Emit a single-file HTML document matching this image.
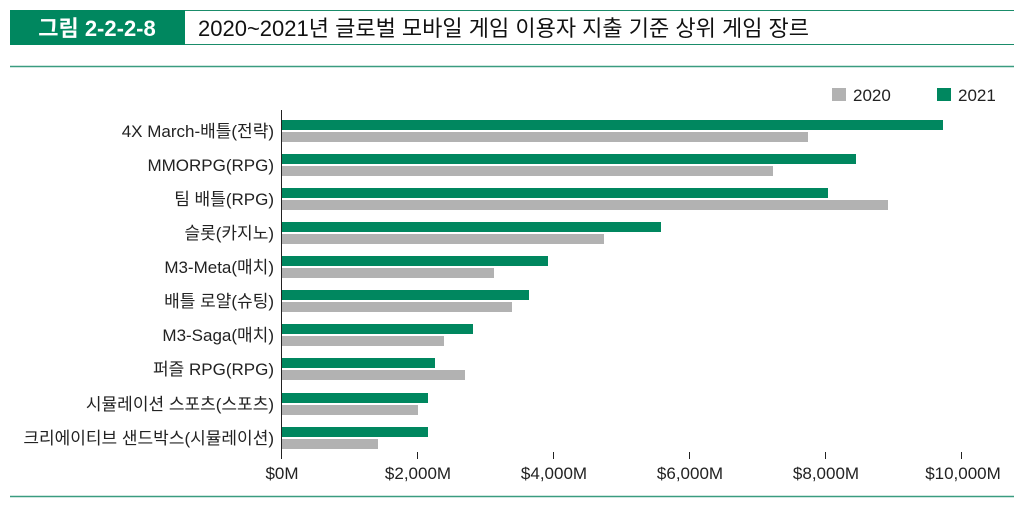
<!DOCTYPE html>
<html><head><meta charset="utf-8"><style>
body{margin:0;background:#fff;width:1024px;height:512px;overflow:hidden;font-family:"Liberation Sans","Noto Sans CJK KR",sans-serif;}
</style></head><body>
<svg width="1024" height="512" xmlns="http://www.w3.org/2000/svg" font-family="Liberation Sans, Noto Sans CJK KR, sans-serif">
<line x1="10" y1="10.5" x2="1014" y2="10.5" stroke="#1a8c6a" stroke-width="1"/>
<line x1="10" y1="44.5" x2="1014" y2="44.5" stroke="#1a8c6a" stroke-width="1"/>
<rect x="10" y="10" width="175" height="35" fill="#00875f"/>
<text x="97" y="36" fill="#fff" font-size="22" text-anchor="middle" font-weight="bold">그림 2-2-2-8</text>
<text x="198" y="36" fill="#111" font-size="22">2020~2021년 글로벌 모바일 게임 이용자 지출 기준 상위 게임 장르</text>
<line x1="10" y1="66.5" x2="1014" y2="66.5" stroke="#3a9c80" stroke-width="1.5"/>
<line x1="10" y1="496.5" x2="1014" y2="496.5" stroke="#3a9c80" stroke-width="1.5"/>
<rect x="832" y="88" width="14" height="13" fill="#b2b2b2"/>
<text x="853" y="101" font-size="17" fill="#222">2020</text>
<rect x="937" y="88" width="14" height="13" fill="#00875f"/>
<text x="958" y="101" font-size="17" fill="#222">2021</text>
<g fill="#00875f">
<rect x="282" y="120" width="661" height="10"/>
<rect x="282" y="154" width="574" height="10"/>
<rect x="282" y="188" width="546" height="10"/>
<rect x="282" y="222" width="379" height="10"/>
<rect x="282" y="256" width="266" height="10"/>
<rect x="282" y="290" width="247" height="10"/>
<rect x="282" y="324" width="191" height="10"/>
<rect x="282" y="358" width="153" height="10"/>
<rect x="282" y="393" width="146" height="10"/>
<rect x="282" y="427" width="146" height="10"/>
</g>
<g fill="#b2b2b2">
<rect x="282" y="132" width="526" height="10"/>
<rect x="282" y="166" width="491" height="10"/>
<rect x="282" y="200" width="606" height="10"/>
<rect x="282" y="234" width="322" height="10"/>
<rect x="282" y="268" width="212" height="10"/>
<rect x="282" y="302" width="230" height="10"/>
<rect x="282" y="336" width="162" height="10"/>
<rect x="282" y="370" width="183" height="10"/>
<rect x="282" y="405" width="136" height="10"/>
<rect x="282" y="439" width="96" height="10"/>
</g>
<line x1="281.5" y1="110" x2="281.5" y2="459" stroke="#222" stroke-width="1"/>
<g stroke="#222" stroke-width="1">
<line x1="417.5" y1="452" x2="417.5" y2="459"/>
<line x1="553.5" y1="452" x2="553.5" y2="459"/>
<line x1="689.5" y1="452" x2="689.5" y2="459"/>
<line x1="825.5" y1="452" x2="825.5" y2="459"/>
<line x1="961.5" y1="452" x2="961.5" y2="459"/>
</g>
<g font-size="17" fill="#222" text-anchor="middle">
<text x="282" y="479">$0M</text>
<text x="418" y="479">$2,000M</text>
<text x="554" y="479">$4,000M</text>
<text x="690" y="479">$6,000M</text>
<text x="826" y="479">$8,000M</text>
<text x="963" y="479">$10,000M</text>
</g>
<g font-size="17" fill="#222" text-anchor="end">
<text x="274" y="137">4X March-배틀(전략)</text>
<text x="274" y="171">MMORPG(RPG)</text>
<text x="274" y="205">팀 배틀(RPG)</text>
<text x="274" y="239">슬롯(카지노)</text>
<text x="274" y="273">M3-Meta(매치)</text>
<text x="274" y="307">배틀 로얄(슈팅)</text>
<text x="274" y="341">M3-Saga(매치)</text>
<text x="274" y="375">퍼즐 RPG(RPG)</text>
<text x="274" y="410">시뮬레이션 스포츠(스포츠)</text>
<text x="274" y="444">크리에이티브 샌드박스(시뮬레이션)</text>
</g>
</svg>
</body></html>
